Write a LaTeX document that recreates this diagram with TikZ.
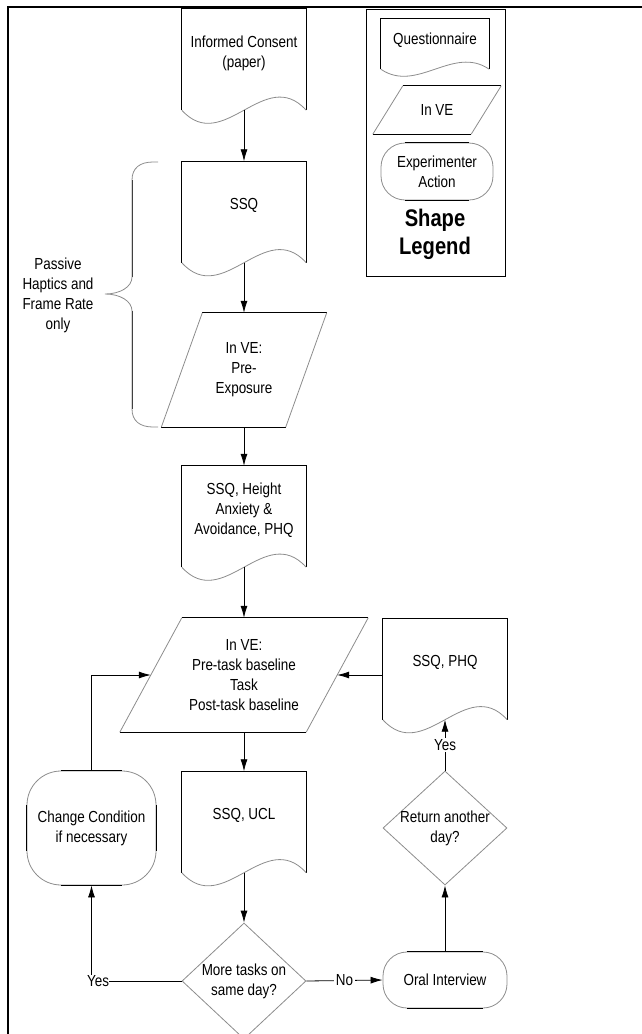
\documentclass[tikz,border=0pt]{standalone}
\usepackage{fontspec}
\setmainfont[FakeStretch=0.84]{Liberation Sans}
\usetikzlibrary{shapes.geometric,arrows.meta,calc}

\tikzset{
  hard/.style={draw=black, line width=0.8pt},
  soft/.style={draw=black!45, line width=0.8pt},
  box/.style={align=center, inner sep=0pt, font=\fontsize{16}{20}\selectfont},
  doc/.style={box, minimum width=124pt, minimum height=88pt},
  para/.style={box, minimum height=114pt},
  act/.style={box, soft, rounded corners=#1},
  dec/.style={box, soft, diamond, inner xsep=-6pt, inner ysep=-4pt, minimum width=124pt, minimum height=116pt},
  flow/.style={line width=0.8pt, -{Latex[length=12pt,width=7pt]}},
  tag/.style={box, fill=white, inner sep=1.5pt}
}

\begin{document}
\begin{tikzpicture}[x=1pt,y=-1pt]
\useasboundingbox (0,0) rectangle (642,1034);
\draw[line width=2pt] (642,7) -- (8,7) -- (8,1034);
\draw[line width=0.8pt] (366,9) rectangle (505,276);

\node[doc] (consent) at (244,53) {Informed Consent\\(paper)};
\node[doc] (ssq1) at (244,205.5) {SSQ};
\node[para, minimum width=124pt] (pre) at (244,370) {In VE:\\Pre-\\Exposure};
\node[doc] (ssq2) at (244,510) {SSQ, Height\\Anxiety \&\\Avoidance, PHQ};
\node[para, minimum width=186pt] (task) at (244,675) {In VE:\\Pre-task baseline\\Task\\Post-task baseline};
\node[doc] (ssq3) at (244,815.5) {SSQ, UCL};
\node[dec] (more) at (244,981) {More tasks on\\same day?};
\node[act=34pt, minimum width=129pt, minimum height=114pt] (change) at (91.5,828) {Change Condition\\if necessary};
\node[act=24pt, minimum width=124pt, minimum height=56pt] (oral) at (445,980) {Oral Interview};
\node[dec, minimum height=114pt] (ret) at (445,828) {Return another\\day?};
\node[doc] (ssq4) at (445,662.5) {SSQ, PHQ};

\node[doc, minimum width=108pt, minimum height=43pt] (legq) at (435,40.5) {Questionnaire};
\node[para, minimum width=98pt, minimum height=48pt] (legp) at (437,110) {In VE};
\node[act=24pt, minimum width=112pt, minimum height=57pt] (lega) at (437,171.5) {Experimenter\\Action};
\node[box, font=\fontsize{24}{28}\selectfont\bfseries] (title) at (435,234) {Shape\\Legend};
\node[box] (note) at (58,295) {Passive\\Haptics and\\Frame Rate\\only};

\foreach \n/\w/\a in {consent/124/13, ssq1/124/13, ssq2/124/13, ssq3/124/13, ssq4/124/13, legq/108/7}{
  \draw[hard] ($(\n.south west)+(0,\a)$) -- (\n.north west) -- (\n.north east) -- ($(\n.south east)+(0,\a)$);
  \draw[soft] ($(\n.south west)+(0,\a)$) .. controls +(\w/3,3.5*\a) and +(-\w/3,-3.5*\a) .. ($(\n.south east)+(0,\a)$);
}
\foreach \n/\s in {pre/20.5, task/31, legp/15}{
  \draw[hard] ($(\n.north west)+(\s,0)$) -- ($(\n.north east)+(\s,0)$);
  \draw[hard] ($(\n.south west)+(-\s,0)$) -- ($(\n.south east)+(-\s,0)$);
  \draw[soft] ($(\n.north west)+(\s,0)$) -- ($(\n.south west)+(-\s,0)$);
  \draw[soft] ($(\n.north east)+(\s,0)$) -- ($(\n.south east)+(-\s,0)$);
}
\foreach \n/\r in {change/34, oral/24, lega/24}{
  \draw[hard] ($(\n.north west)+(\r,0)$) -- ($(\n.north east)+(-\r,0)$);
  \draw[hard] ($(\n.south west)+(\r,0)$) -- ($(\n.south east)+(-\r,0)$);
}
\draw[hard] ($(change.north west)+(0,34)$) -- ($(change.south west)+(0,-34)$);
\draw[hard] ($(change.north east)+(0,34)$) -- ($(change.south east)+(0,-34)$);

\draw[soft] (158,162) -- (153,162) .. controls (140,162) and (132,168) .. (132,180) -- (132,277)
  .. controls (132,287) and (120,294) .. (105,294) .. controls (120,294) and (132,301) .. (132,311)
  -- (132,409) .. controls (132,421) and (140,427) .. (153,427) -- (158,427);
\draw[hard, draw=black!75] (132,180) -- (132,277) (132,311) -- (132,409);

\draw[flow] ($(consent.south)+(0,13)$) -- (ssq1.north);
\draw[flow] ($(ssq1.south)+(0,13)$) -- (pre.north);
\draw[flow] (pre.south) -- (ssq2.north);
\draw[flow] ($(ssq2.south)+(0,13)$) -- (task.north);
\draw[flow] (task.south) -- (ssq3.north);
\draw[flow] ($(ssq3.south)+(0,13)$) -- (more.north);
\node[box] (yes1) at (98,981) {Yes};
\draw[line width=0.8pt] (more.west) -- (yes1.east);
\draw[flow] (change.south |- yes1.north) -- (change.south);
\draw[flow] (change.north) |- (task.west);
\draw[flow] (more.east) -- node[tag] {No} (oral.west);
\draw[flow] (oral.north) -- (ret.south);
\draw[flow] (ret.north) -- node[tag] {Yes} ($(ssq4.south)+(0,13)$);
\draw[flow] (ssq4.west |- task.east) -- (task.east);
\end{tikzpicture}
\end{document}
